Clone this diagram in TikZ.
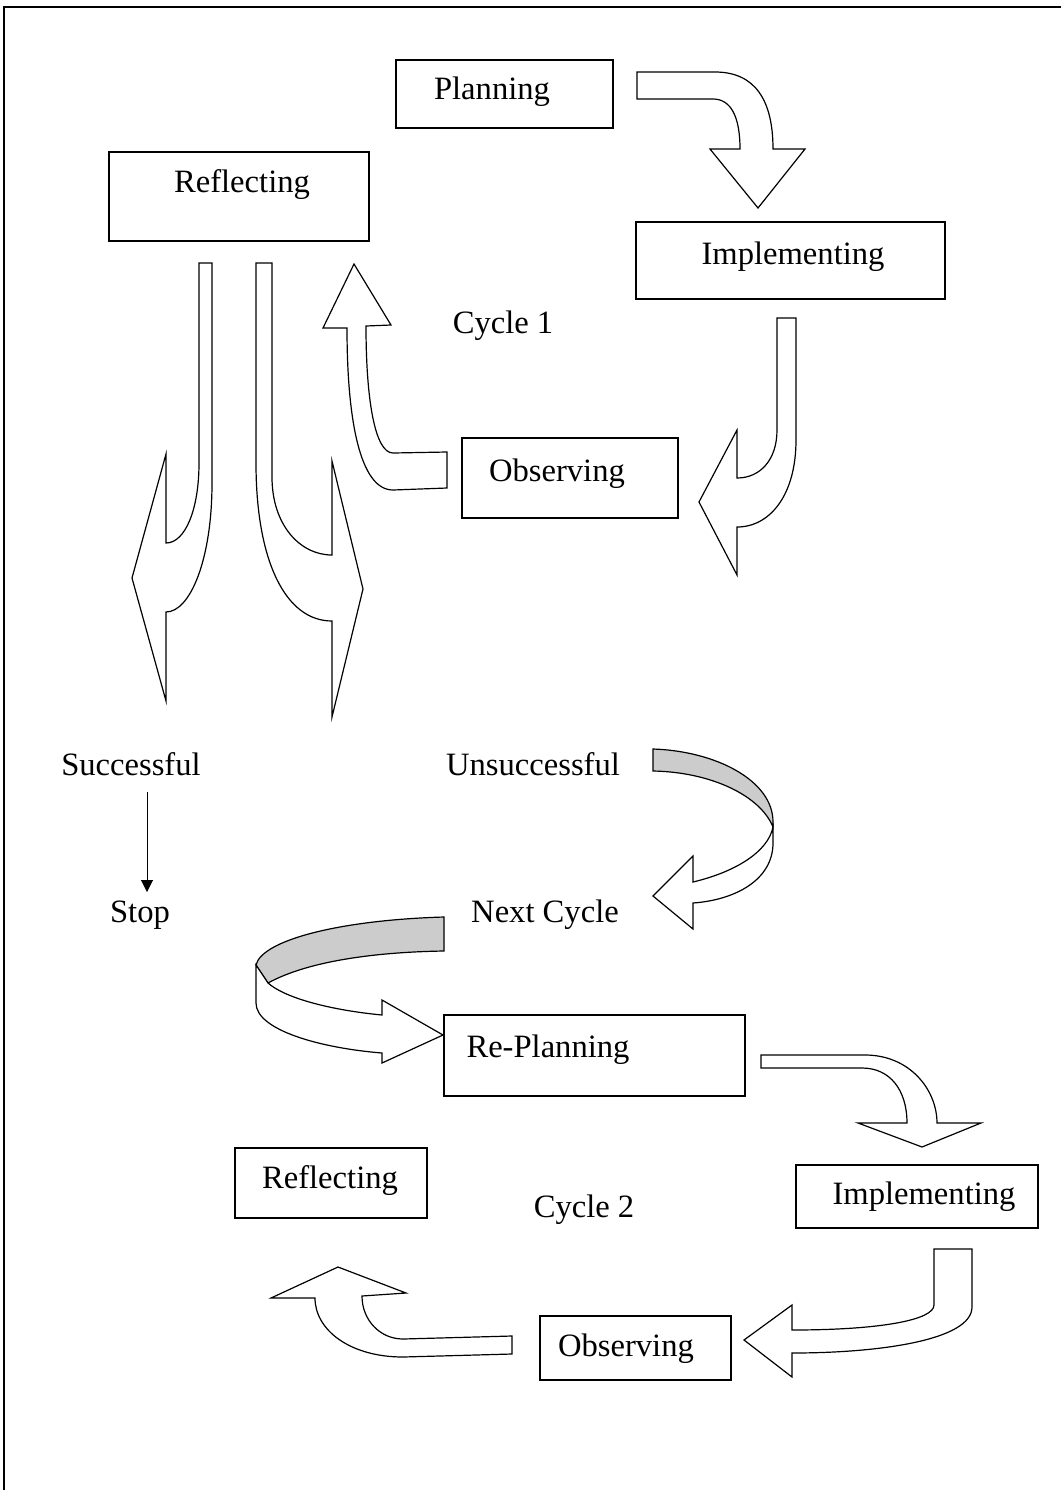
\documentclass[tikz,border=0pt]{standalone}
\usepackage{fontspec}
\setmainfont{Liberation Serif}
\usetikzlibrary{fit,arrows.meta}
\definecolor{ribbon}{RGB}{204,204,204}
\begin{document}
\begin{tikzpicture}[x=0.5pt,y=-0.5pt,
  box/.style={draw,line width=0.75pt,inner sep=0pt},
  lbl/.style={anchor=base,inner sep=0pt,font=\fontsize{16.3}{19}\selectfont},
  blk/.style={draw,line width=0.6pt,fill=white,line join=miter},
  shade/.style={blk,fill=ribbon},
  thin/.style={draw,line width=0.5pt,-{Triangle[length=6pt,width=6pt]}}]
\useasboundingbox (0,0) rectangle (1061,1490);
\draw[line width=1pt] (4,1490) -- (4,7) -- (1061,7);

% boxes
\node[box,fit={(396,60) (613,128)}] (plan) {};
\node[box,fit={(109,152) (369,241)}] (refl1) {};
\node[box,fit={(636,222) (945,299)}] (impl1) {};
\node[box,fit={(462,438) (678,518)}] (obs1) {};
\node[box,fit={(444,1015) (745,1096)}] (replan) {};
\node[box,fit={(235,1148) (427,1218)}] (refl2) {};
\node[box,fit={(796,1165) (1038,1228)}] (impl2) {};
\node[box,fit={(540,1316) (731,1380)}] (obs2) {};

% texts
\node[lbl] (tplan) at (492,99) {Planning};
\node[lbl] (trefl1) at (242,192) {Reflecting};
\node[lbl] (timpl1) at (793,264) {Implementing};
\node[lbl] (cyc1) at (503,333) {Cycle 1};
\node[lbl] (tobs1) at (557,481) {Observing};
\node[lbl] (succ) at (131,775) {Successful};
\node[lbl] (unsucc) at (533,775) {Unsuccessful};
\node[lbl] (stop) at (140,922) {Stop};
\node[lbl] (next) at (545,922) {Next Cycle};
\node[lbl] (treplan) at (548,1057) {Re-Planning};
\node[lbl] (trefl2) at (330,1188) {Reflecting};
\node[lbl] (cyc2) at (584,1217) {Cycle 2};
\node[lbl] (timpl2) at (924,1204) {Implementing};
\node[lbl] (tobs2) at (626,1356) {Observing};

% Successful -> Stop
\coordinate (s1) at (147,792);
\coordinate (s2) at (147,892);
\draw[thin] (s1) -- (s2);

% Planning -> Implementing
\draw[blk] (637,72) -- (715,72) .. controls (755,72) and (773,100) .. (773,149)
  -- (805,149) -- (758,208) -- (710,149) -- (740,149)
  .. controls (740,115) and (730,99) .. (713,99) -- (637,99) -- cycle;

% Implementing -> Observing
\draw[blk] (777,318) -- (796,318) -- (796,440) .. controls (796,495) and (770,527) .. (737,527)
  -- (737,575) -- (699,502) -- (737,430) -- (737,478)
  .. controls (760,478) and (777,460) .. (777,430) -- cycle;

% Observing -> Reflecting
\draw[blk] (447,452) -- (447,488) -- (393,490) .. controls (360,490) and (347,420) .. (347,328)
  -- (323,328) -- (354,264) -- (391,325) -- (366,326)
  .. controls (366,400) and (375,453) .. (393,453) -- cycle;

% Reflecting -> Successful
\draw[blk] (199,263) -- (212,263) -- (212,483) .. controls (212,560) and (190,612) .. (166,612)
  -- (166,701) -- (132,578) -- (166,454) -- (166,543)
  .. controls (185,543) and (199,510) .. (199,463) -- cycle;

% Reflecting -> Unsuccessful
\draw[blk] (256,263) -- (272,263) -- (272,477) .. controls (272,525) and (300,555) .. (332,555)
  -- (332,461) -- (363,589) -- (332,717) -- (332,621)
  .. controls (285,621) and (256,560) .. (256,463) -- cycle;

% Unsuccessful -> Next Cycle (ribbon)
\draw[shade] (653,749) .. controls (715,751) and (773,780) .. (773,822) -- (773,827)
  .. controls (760,795) and (710,772) .. (653,771) -- cycle;
\draw[blk] (773,827) -- (773,843) .. controls (773,880) and (735,900) .. (693,903)
  -- (693,929) -- (653,896) -- (693,856) -- (693,882)
  .. controls (735,872) and (768,852) .. (773,827) -- cycle;

% Next Cycle -> Re-Planning (ribbon)
\draw[shade] (444,917) .. controls (340,920) and (262,940) .. (256,965)
  -- (268,983) .. controls (310,960) and (380,952) .. (444,951) -- cycle;
\draw[blk] (256,965) -- (256,1003) .. controls (256,1030) and (320,1048) .. (382,1053)
  -- (382,1063) -- (443,1035) -- (382,1000) -- (382,1015)
  .. controls (330,1010) and (285,998) .. (268,983) -- cycle;

% Re-Planning -> Implementing
\draw[blk] (761,1055) -- (865,1055) .. controls (910,1055) and (937,1090) .. (937,1123)
  -- (981,1123) -- (922,1147) -- (858,1123) -- (907,1123)
  .. controls (907,1090) and (890,1068) .. (862,1068) -- (761,1068) -- cycle;

% Implementing -> Observing
\draw[blk] (934,1249) -- (972,1249) -- (972,1307) .. controls (972,1340) and (880,1353) .. (792,1353)
  -- (792,1377) -- (744,1340) -- (792,1305) -- (792,1330)
  .. controls (880,1330) and (934,1320) .. (934,1305) -- cycle;

% Observing -> Reflecting
\draw[blk] (512,1336) -- (512,1354) -- (403,1357) .. controls (350,1357) and (315,1330) .. (315,1298)
  -- (271,1298) -- (338,1267) -- (406,1293) -- (362,1296)
  .. controls (362,1320) and (380,1339) .. (403,1339) -- cycle;
\end{tikzpicture}
\end{document}
